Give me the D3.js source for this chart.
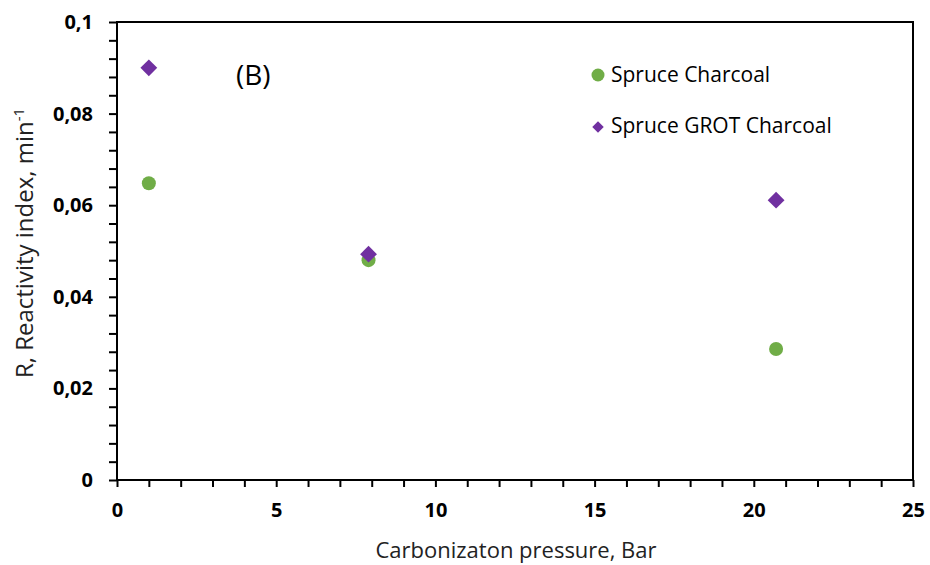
<!DOCTYPE html>
<html>
<head>
<meta charset="utf-8">
<script src="https://cdn.jsdelivr.net/npm/d3@7"></script>
<style>
  body { margin: 0; background: #fff; }
  text { font-family: "Open Sans", "Noto Sans", sans-serif; }
</style>
</head>
<body>
<svg id="chart" width="930" height="565"></svg>
<script>
// pressures (Bar) and reactivity index (min^-1)
const pressure = [1, 7.9, 20.7]
const spruceCharcoal = [0.0648, 0.048, 0.0286]
const spruceGrotCharcoal = [0.09, 0.0493, 0.0611]
const xTicks = [0, 5, 10, 15, 20, 25]
const yTicks = [0, 0.02, 0.04, 0.06, 0.08, 0.1]
const seriesNames = ['Spruce Charcoal', 'Spruce GROT Charcoal']

const green = '#70AD47'
const purple = '#7030A0'

const svg = d3.select('#chart')
const plotLeft = 117, plotRight = 913, plotTop = 22, plotBottom = 480

const x = d3.scaleLinear().domain([0, 25]).range([plotLeft, plotRight])
const y = d3.scaleLinear().domain([0, 0.1]).range([plotBottom, plotTop])

const locale = d3.formatLocale({decimal: ',', thousands: '.', grouping: [3], currency: ['', '']})
const fmt = locale.format('.2~f')

// frame
svg.append('rect')
  .attr('x', plotLeft).attr('y', plotTop)
  .attr('width', plotRight - plotLeft).attr('height', plotBottom - plotTop)
  .attr('fill', 'none').attr('stroke', '#000').attr('stroke-width', 2)

// minor ticks
const xMinor = d3.range(0, 26, 1)
svg.append('g')
  .attr('transform', 'translate(0,' + plotBottom + ')')
  .call(d3.axisBottom(x).tickValues(xMinor).tickSize(7).tickFormat(''))
  .call(g => g.select('.domain').remove())
  .call(g => g.selectAll('line').attr('stroke-width', 2))

const yMinor = d3.range(0, 0.1001, 0.004)
svg.append('g')
  .attr('transform', 'translate(' + plotLeft + ',0)')
  .call(d3.axisLeft(y).tickValues(yMinor).tickSize(8).tickFormat(''))
  .call(g => g.select('.domain').remove())
  .call(g => g.selectAll('line').attr('stroke-width', 2))

// tick labels
svg.append('g')
  .attr('transform', 'translate(0,' + plotBottom + ')')
  .call(d3.axisBottom(x).tickValues(xTicks).tickSize(0).tickPadding(23).tickFormat(d3.format('d')))
  .call(g => g.select('.domain').remove())
  .call(g => g.selectAll('text')
    .attr('font-size', 20).attr('font-weight', 'bold')
    .attr('font-family', '"Open Sans", sans-serif').attr('fill', '#000'))

svg.append('g')
  .attr('transform', 'translate(' + plotLeft + ',0)')
  .call(d3.axisLeft(y).tickValues(yTicks).tickSize(0).tickPadding(24).tickFormat(fmt))
  .call(g => g.select('.domain').remove())
  .call(g => g.selectAll('text')
    .attr('font-size', 20).attr('font-weight', 'bold')
    .attr('font-family', '"Open Sans", sans-serif').attr('fill', '#000'))

// axis titles
svg.append('text')
  .attr('x', 516)
  .attr('y', 558)
  .attr('text-anchor', 'middle')
  .attr('font-size', 22)
  .attr('fill', '#222')
  .text('Carbonizaton pressure, Bar')

const yTitle = svg.append('text')
  .attr('transform', 'translate(33,243) rotate(-90)')
  .attr('text-anchor', 'middle')
  .attr('font-size', 24)
  .attr('fill', '#222')
yTitle.append('tspan').text('R, Reactivity index, min')
yTitle.append('tspan').attr('dy', -9).attr('font-size', 15).text('-1')

// panel label
svg.append('text')
  .attr('x', 236).attr('y', 85)
  .attr('font-size', 28)
  .attr('fill', '#000')
  .text('(B)')

// data
const diamond = d3.symbol().type(d3.symbolDiamond2)

svg.append('g').selectAll('circle')
  .data(pressure.map((p, i) => ({p: p, v: spruceCharcoal[i]})))
  .join('circle')
  .attr('cx', d => x(d.p))
  .attr('cy', d => y(d.v))
  .attr('r', 7)
  .attr('fill', green)

svg.append('g').selectAll('path')
  .data(pressure.map((p, i) => ({p: p, v: spruceGrotCharcoal[i]})))
  .join('path')
  .attr('d', diamond.size(180))
  .attr('transform', d => 'translate(' + x(d.p) + ',' + y(d.v) + ')')
  .attr('fill', purple)

// legend
const legend = svg.append('g')
legend.append('circle').attr('cx', 598).attr('cy', 75).attr('r', 6.5).attr('fill', green)
legend.append('path').attr('d', diamond.size(85)).attr('transform', 'translate(598,127)').attr('fill', purple)
legend.selectAll('text')
  .data(seriesNames)
  .join('text')
  .attr('x', 611)
  .attr('y', (d, i) => 82 + i * 51)
  .attr('font-size', 21)
  .attr('fill', '#000')
  .text(d => d)
</script>
</body>
</html>
